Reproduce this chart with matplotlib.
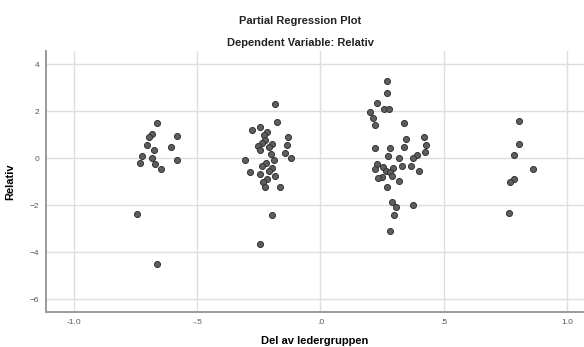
import matplotlib.pyplot as plt

plt.rcParams['font.family'] = ['Liberation Sans', 'DejaVu Sans']

# Partial residuals, grouped roughly by cluster along the x axis
del_av_leder = [
    -0.661, -0.683, -0.696, -0.583, -0.704, -0.605, -0.675, -0.723, -0.683, -0.583,
    -0.730, -0.672, -0.645, -0.745, -0.661,
    -0.185, -0.176, -0.277, -0.244, -0.215, -0.230, -0.131, -0.223, -0.237, -0.253,
    -0.195, -0.210, -0.137, -0.245, -0.144, -0.200, -0.118, -0.307, -0.188, -0.222,
    -0.238, -0.195, -0.285, -0.210, -0.245, -0.183, -0.217, -0.232, -0.223, -0.165,
    -0.196, -0.244,
    0.269, 0.270, 0.230, 0.258, 0.277, 0.201, 0.213, 0.221, 0.339, 0.346,
    0.419, 0.429, 0.339, 0.221, 0.283, 0.424, 0.275, 0.318, 0.391, 0.377,
    0.228, 0.255, 0.331, 0.369, 0.223, 0.296, 0.399, 0.265, 0.282, 0.249,
    0.234, 0.289, 0.318, 0.270, 0.292, 0.377, 0.305, 0.297, 0.283,
    0.805, 0.804, 0.784, 0.862, 0.784, 0.770, 0.764,
]
relativ = [
    1.50, 1.03, 0.89, 0.93, 0.58, 0.46, 0.36, 0.11, 0.02, -0.08,
    -0.22, -0.26, -0.47, -2.36, -4.51,
    2.30, 1.56, 1.21, 1.34, 1.13, 0.99, 0.89, 0.79, 0.65, 0.53,
    0.60, 0.46, 0.55, 0.34, 0.22, 0.17, 0.01, -0.06, -0.09, -0.20,
    -0.35, -0.42, -0.59, -0.55, -0.66, -0.76, -0.89, -1.01, -1.21, -1.24,
    -2.42, -3.67,
    3.29, 2.78, 2.34, 2.11, 2.10, 1.96, 1.70, 1.41, 1.50, 0.82,
    0.92, 0.58, 0.49, 0.42, 0.42, 0.25, 0.09, 0.02, 0.12, 0.00,
    -0.26, -0.36, -0.32, -0.33, -0.47, -0.43, -0.53, -0.55, -0.57, -0.79,
    -0.83, -0.76, -0.96, -1.21, -1.87, -2.01, -2.09, -2.43, -3.09,
    1.58, 0.59, 0.14, -0.45, -0.87, -1.00, -2.35,
]

x_ticks = [-1.0, -0.5, 0.0, 0.5, 1.0]
x_tick_labels = ['-1.0', '-.5', '.0', '.5', '1.0']
y_ticks = [4, 2, 0, -2, -4, -6]

fig = plt.figure(figsize=(5.84, 3.47), dpi=100)
ax = fig.add_axes([0.0788, 0.1009, 0.9212, 0.7507])

ax.scatter(del_av_leder, relativ, s=19, color='#5e5e5e', edgecolors='#333333',
           linewidths=0.7, zorder=3)

ax.set_xlim(-1.113, 1.069)
ax.set_ylim(-6.553, 4.546)
ax.set_xticks(x_ticks)
ax.set_xticklabels(x_tick_labels)
ax.set_yticks(y_ticks)
ax.grid(True, color='#dedede', linewidth=1.0)
ax.set_axisbelow(True)
ax.tick_params(length=0, labelsize=6, labelcolor='#555555', pad=5)

for side in ['top', 'right']:
    ax.spines[side].set_visible(False)
for side in ['left', 'bottom']:
    ax.spines[side].set_color('#9a9a9a')
    ax.spines[side].set_linewidth(1.4)

ax.set_xlabel('Del av ledergruppen', fontsize=8, fontweight='bold', labelpad=7)
ax.set_ylabel('Relativ', fontsize=8, fontweight='bold', labelpad=10)

fig.text(300 / 584, 1 - 21 / 347, 'Partial Regression Plot', ha='center', va='center',
         fontsize=8, fontweight='bold', color='#222222')
fig.text(300 / 584, 1 - 43 / 347, 'Dependent Variable: Relativ', ha='center', va='center',
         fontsize=8, fontweight='bold', color='#222222')

fig.savefig('out.png', dpi=100)
